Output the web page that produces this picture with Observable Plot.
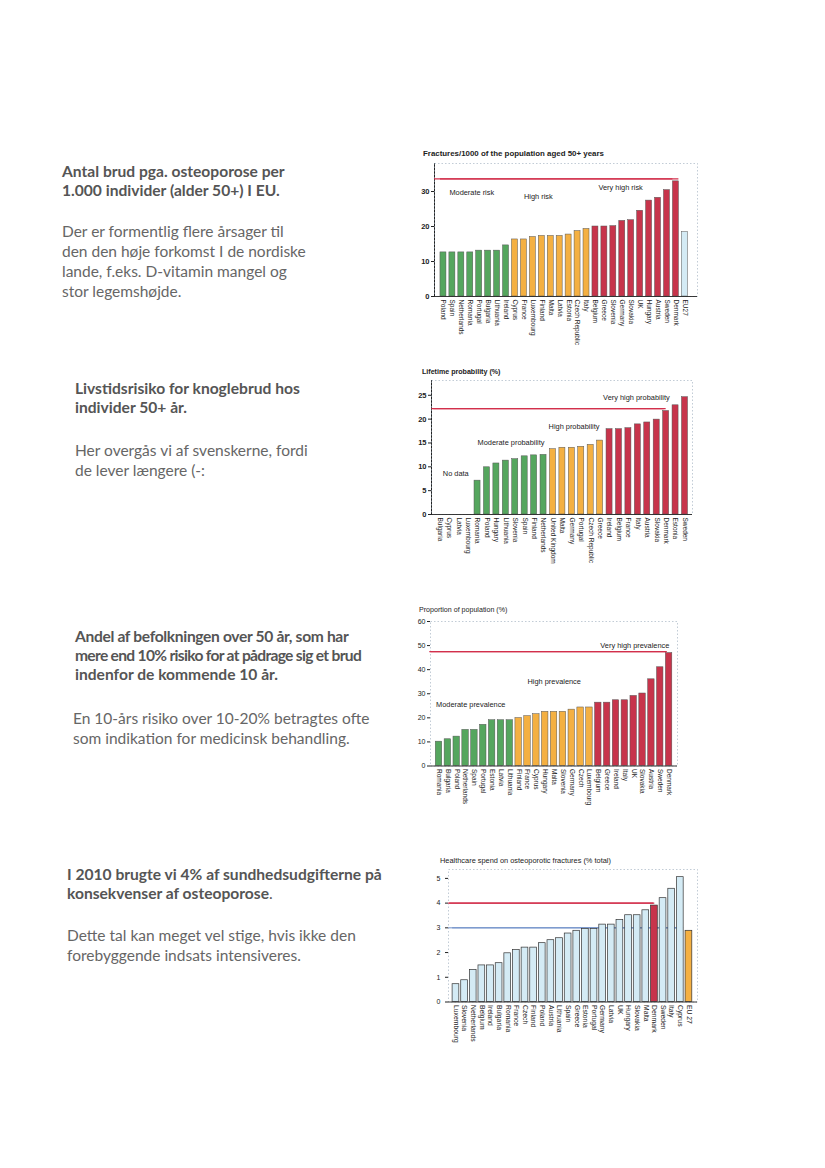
<!DOCTYPE html>
<html>
<head>
<meta charset="utf-8">
<script src="https://cdn.jsdelivr.net/npm/d3@7"></script>
<script src="https://cdn.jsdelivr.net/npm/@observablehq/plot@0.6"></script>
<style>
  html, body { margin: 0; padding: 0; background: #fff; }
  #page { position: relative; width: 825px; height: 1168px; overflow: hidden; background: #fff; }
  .txt { position: absolute; font-family: Lato, "Open Sans", sans-serif; white-space: nowrap; }
  .head { font-weight: bold; font-size: 15.6px; line-height: 19px; color: #555; }
  .body { font-size: 15.5px; line-height: 20px; color: #666; }
  .ctitle { position: absolute; font-family: "Liberation Sans", Arial, sans-serif; font-size: 7px; line-height: 8px; color: #222; white-space: nowrap; }
  .chart { position: absolute; }
  svg.boldy g[aria-label^="y-axis"] text { font-weight: bold; font-size: 7.5px; }
  svg.plainy g[aria-label^="y-axis"] text { font-size: 7px; }
</style>
</head>
<body>
<div id="page">
  <div class="txt head" style="left:62px;top:162px;">Antal brud pga. osteoporose per<br>1.000 individer (alder 50+) I EU.</div>
  <div class="txt body" style="left:62px;top:221px;">Der er formentlig flere årsager til<br>den den høje forkomst I de nordiske<br>lande, f.eks. D-vitamin mangel og<br>stor legemshøjde.</div>

  <div class="txt head" style="left:75px;top:379px;">Livstidsrisiko for knoglebrud hos<br>individer 50+ år.</div>
  <div class="txt body" style="left:75px;top:440px;">Her overgås vi af svenskerne, fordi<br>de lever længere (-:</div>

  <div class="txt head" style="left:75px;top:627px;"><span style="letter-spacing:-0.34px">Andel af befolkningen over 50 år, som har</span><br><span style="letter-spacing:-0.7px">mere end 10% risiko for at pådrage sig et brud</span><br>indenfor de kommende 10 år.</div>
  <div class="txt body" style="left:73px;top:708px;">En 10-års risiko over 10-20% betragtes ofte<br>som indikation for medicinsk behandling.</div>

  <div class="txt head" style="left:67px;top:865px;">I 2010 brugte vi 4% af sundhedsudgifterne på<br>konsekvenser af osteoporose<span style="font-weight:normal">.</span></div>
  <div class="txt body" style="left:67px;top:925px;">Dette tal kan meget vel stige, hvis ikke den<br>forebyggende indsats intensiveres.</div>

  <div class="ctitle" style="left:423px;top:150px;font-weight:bold;font-size:7.9px;">Fractures/1000 of the population aged 50+ years</div>
  <div class="ctitle" style="left:422px;top:368px;font-weight:bold;font-size:7.1px;">Lifetime probability (%)</div>
  <div class="ctitle" style="left:419px;top:606px;font-size:7.1px;">Proportion of population (%)</div>
  <div class="ctitle" style="left:440px;top:857px;font-size:7.4px;">Healthcare spend on osteoporotic fractures (% total)</div>
</div>
<script>
// ---------- DATA ----------
// Chart 1: fractures per 1000 (50+)
const countries1 = ["Poland","Spain","Netherlands","Romania","Portugal","Bulgaria","Lithuania","Ireland","Cyprus","France","Luxembourg","Finland","Malta","Latvia","Estonia","Czech Republic","Italy","Belgium","Greece","Slovenia","Germany","Slovakia","UK","Hungary","Austria","Sweden","Denmark","EU27"];
const values1 = [12.6,12.6,12.6,12.6,13.1,13.1,13.1,14.6,16.3,16.3,17.0,17.3,17.3,17.3,17.7,18.7,19.3,20.0,20.0,20.1,21.6,21.8,24.5,27.4,28.2,30.4,32.9,18.4];
const groups1 = ["m","m","m","m","m","m","m","m","h","h","h","h","h","h","h","h","h","v","v","v","v","v","v","v","v","v","v","e"];
const zones1 = ["Moderate risk","High risk","Very high risk"];
const threshold1 = 33.6;
const ticks1 = [0,10,20,30];

// Chart 2: lifetime probability (%)
const countries2 = ["Bulgaria","Cyprus","Latvia","Luxembourg","Romania","Poland","Hungary","Lithuania","Slovenia","Spain","Finland","Netherlands","United Kingdom","Malta","Germany","Portugal","Czech Republic","Greece","Ireland","Belgium","France","Italy","Austria","Slovakia","Denmark","Estonia","Sweden"];
const values2 = [null,null,null,null,7.1,9.9,10.7,11.3,11.6,12.2,12.4,12.5,13.7,14.0,14.0,14.2,14.6,15.5,17.9,17.9,18.1,18.9,19.3,19.9,21.7,22.9,24.6];
const groups2 = ["n","n","n","n","m","m","m","m","m","m","m","m","h","h","h","h","h","h","v","v","v","v","v","v","v","v","v"];
const zones2 = ["No data","Moderate probability","High probability","Very high probability"];
const threshold2 = 22.2;
const ticks2 = [0,5,10,15,20,25];

// Chart 3: proportion of population (%)
const countries3 = ["Romania","Bulgaria","Poland","Netherlands","Spain","Portugal","Estonia","Latvia","Lithuania","Finland","France","Cyprus","Hungary","Malta","Slovenia","Germany","Czech","Luxembourg","Belgium","Greece","Ireland","Italy","UK","Slovakia","Austria","Sweden","Denmark"];
const values3 = [10.1,11.1,12.2,15.0,15.0,17.1,19.0,19.0,19.0,19.9,20.7,21.5,22.5,22.5,22.5,23.4,24.3,24.3,26.3,26.3,27.3,27.3,29.1,30.1,36.0,41.0,46.9];
const groups3 = ["m","m","m","m","m","m","m","m","m","h","h","h","h","h","h","h","h","h","v","v","v","v","v","v","v","v","v"];
const zones3 = ["Moderate prevalence","High prevalence","Very high prevalence"];
const threshold3 = 47.5;
const ticks3 = [0,10,20,30,40,50,60];

// Chart 4: healthcare spend (% total)
const countries4 = ["Luxembourg","Slovenia","Netherlands","Belgium","Ireland","Bulgaria","Romania","France","Czech","Finland","Poland","Austria","Lithuania","Spain","Greece","Estonia","Portugal","Germany","Latvia","UK","Hungary","Slovakia","Malta","Denmark","Sweden","Italy","Cyprus","EU 27"];
const values4 = [0.72,0.88,1.3,1.48,1.48,1.57,1.97,2.1,2.2,2.2,2.38,2.5,2.58,2.77,2.88,2.95,2.95,3.13,3.13,3.32,3.51,3.51,3.71,3.9,4.2,4.58,5.05,2.88];
const groups4 = ["c","c","c","c","c","c","c","c","c","c","c","c","c","c","c","c","c","c","c","c","c","c","c","d","c","c","c","e"];
const threshold4a = 4.0;
const threshold4b = 3.0;
const ticks4 = [0,1,2,3,4,5];

// ---------- STYLE ----------
const GREEN = "#55a65e", ORANGE = "#f4b042", RED = "#c7344b", LBLUE = "#d4ebf5", LINE = "#d2304c";

function table(c, v, g) { return c.map((d, i) => ({country: d, value: v[i], group: g[i]})); }

function makeChart(o) {
  const svg = Plot.plot({
    width: o.W, height: o.H,
    marginLeft: o.axisX - o.L, marginRight: o.L + o.W - o.rightX,
    marginTop: o.topY - o.T, marginBottom: o.T + o.H - o.zeroY,
    x: {domain: o.countries, range: [o.b0 - o.L, o.b1 - o.L], padding: o.pad, round: false, tickRotate: 90, tickSize: 0, tickPadding: 3, label: null},
    y: {domain: [0, o.ymax], ticks: o.ticks, tickFormat: d => String(d), tickSize: 3, tickPadding: o.ypad || 2, label: null, line: o.yline},
    color: {domain: o.cdom, range: o.crange},
    style: {fontSize: o.fs || "6.5px", fontFamily: "'Liberation Sans', Arial, sans-serif", color: "#222", background: "transparent", overflow: "visible"},
    marks: [
      Plot.frame({stroke: "#9ab", strokeWidth: 0.6, strokeDasharray: "1.5,2"}),
      ...(o.under || []),
      Plot.barY(o.data.filter(d => d.value != null), {x: "country", y: "value", fill: "group", stroke: o.barStroke || "#555", strokeWidth: o.barSW || 0.5}),
      Plot.ruleY([0], {stroke: "#222", strokeWidth: 0.9}),
      ...(o.over || [])
    ]
  });
  svg.classList.add("chart");
  svg.classList.add(o.yBold ? "boldy" : "plainy");
  svg.style.left = o.L + "px";
  svg.style.top = o.T + "px";
  document.getElementById("page").appendChild(svg);
}

// threshold line from the y axis to the given end band
// (two overlapping rules with different offsets so that it reaches the axis)
function thresholdRule(yv, first, last, color, w, dxStart, dxEnd) {
  const opt = {x1: () => first, x2: () => last, stroke: color, strokeWidth: w};
  return [Plot.ruleY([yv], {...opt, dx: dxStart}), Plot.ruleY([yv], {...opt, dx: dxEnd})];
}

function zoneText(label, at, yv, dx) {
  return Plot.text([label], {x: () => at, y: () => yv, text: d => d, textAnchor: "start", dx, fill: "#222", fontSize: 7.4});
}

// Chart 1
makeChart({
  L: 400, T: 158, W: 305, H: 195, axisX: 434, rightX: 697, topY: 163, zeroY: 296,
  b0: 437, b1: 690.3, pad: 0.33, ymax: 38, ticks: ticks1, yline: true, yBold: true,
  countries: countries1, data: table(countries1, values1, groups1),
  cdom: ["m","h","v","e"], crange: [GREEN, ORANGE, RED, LBLUE],
  over: [
    ...thresholdRule(threshold1, countries1[0], "Denmark", LINE, 1.2, -6, 0),
    zoneText(zones1[0], "Spain", 29.7, -3),
    zoneText(zones1[1], "France", 28.6, 0),
    zoneText(zones1[2], "Belgium", 31.1, 3)
  ]
});

// Chart 2
makeChart({
  L: 400, T: 376, W: 300, H: 200, axisX: 431, rightX: 692, topY: 380, zeroY: 514,
  b0: 432.9, b1: 690.9, pad: 0.36, ymax: 28.1, ticks: ticks2, yline: true, yBold: true,
  countries: countries2, data: table(countries2, values2, groups2),
  cdom: ["m","h","v"], crange: [GREEN, ORANGE, RED],
  over: [
    ...thresholdRule(threshold2, countries2[0], "Denmark", LINE, 1.2, -5, -3),
    zoneText(zones2[0], "Bulgaria", 8.6, 3),
    zoneText(zones2[1], "Romania", 15.1, 0),
    zoneText(zones2[2], "Netherlands", 18.4, 5),
    zoneText(zones2[3], "Greece", 24.5, 3)
  ]
});

// Chart 3
makeChart({
  L: 400, T: 615, W: 290, H: 195, axisX: 430, rightX: 677, topY: 621, zeroY: 765.5,
  b0: 432.9, b1: 674.2, pad: 0.27, ymax: 60, ticks: ticks3, yline: false,
  countries: countries3, data: table(countries3, values3, groups3),
  cdom: ["m","h","v"], crange: [GREEN, ORANGE, RED],
  over: [
    ...thresholdRule(threshold3, countries3[0], "Denmark", LINE, 1.2, -5, -6),
    zoneText(zones3[0], "Romania", 25.5, -3),
    zoneText(zones3[1], "France", 35.1, 0),
    zoneText(zones3[2], "Belgium", 50, 2)
  ]
});

// Chart 4
makeChart({
  L: 410, T: 865, W: 295, H: 215, axisX: 448, rightX: 697, topY: 869, zeroY: 1001.5,
  b0: 450.2, b1: 693.7, pad: 0.22, ymax: 5.36, ticks: ticks4, yline: false, fs: "6.8px", ypad: 5,
  countries: countries4, data: table(countries4, values4, groups4),
  cdom: ["c","d","e"], crange: [LBLUE, RED, ORANGE], barStroke: "#333", barSW: 0.7,
  under: [
    ...thresholdRule(threshold4b, countries4[0], "Cyprus", "#6f8fc8", 1, -4, 0)
  ],
  over: [
    ...thresholdRule(threshold4a, countries4[0], "Denmark", LINE, 1.2, -4, -3)
  ]
});
</script>
</body>
</html>
